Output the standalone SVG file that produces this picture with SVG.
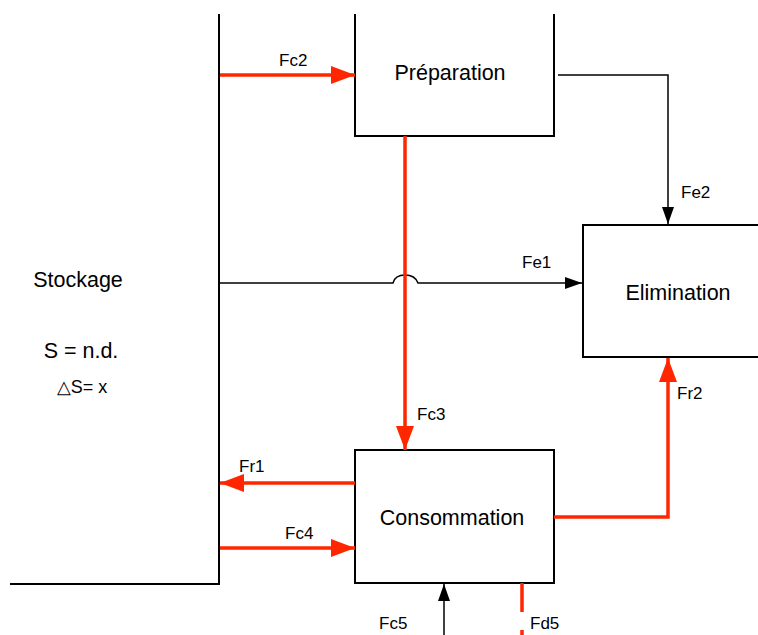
<svg xmlns="http://www.w3.org/2000/svg" width="758" height="635" viewBox="0 0 758 635">
<style>
.box{fill:none;stroke:#000;stroke-width:2}
.blk{fill:none;stroke:#000;stroke-width:1.5}
.red{fill:none;stroke:#ff2600;stroke-width:3.5}
text{font-family:"Liberation Sans",Arial,sans-serif;fill:#000}
.lbl{font-size:17px}
.big{font-size:21.5px;text-anchor:middle}
</style>
<defs>
<marker id="ar" viewBox="0 0 24 18" refX="24" refY="9" markerWidth="24" markerHeight="18" markerUnits="userSpaceOnUse" orient="auto"><path d="M0,0L24,9L0,18z" fill="#ff2600"/></marker>
<marker id="ab" viewBox="0 0 17 12" refX="17" refY="6" markerWidth="17" markerHeight="12" markerUnits="userSpaceOnUse" orient="auto"><path d="M0,0L17,6L0,12z" fill="#000"/></marker>
</defs>
<g id="stockage">
<path class="box" d="M219,14V584H10"/>
<text class="big" x="78" y="287">Stockage</text>
<text class="big" x="81" y="358">S = n.d.</text>
<text x="82" y="393" font-size="18" text-anchor="middle">△S= x</text>
</g>
<g id="preparation">
<path class="box" d="M355,14V136H554V14"/>
<text class="big" x="450" y="80">Préparation</text>
</g>
<g id="elimination">
<path class="box" d="M760,225H583V357H760"/>
<text class="big" x="678" y="300">Elimination</text>
</g>
<g id="consommation">
<rect class="box" x="355" y="450" width="199" height="133"/>
<text class="big" x="452" y="525">Consommation</text>
</g>
<g id="connectors">
<path class="red" d="M220,75H355" marker-end="url(#ar)"/>
<path class="blk" d="M558,75H668V224" marker-end="url(#ab)"/>
<path class="blk" d="M220,283H393Q395,275 405,275Q415,275 418,283H582" marker-end="url(#ab)"/>
<path class="red" d="M405,136V450" marker-end="url(#ar)"/>
<path class="red" d="M355,483H220" marker-end="url(#ar)"/>
<path class="red" d="M220,548H355" marker-end="url(#ar)"/>
<path class="red" d="M554,517H668V358" marker-end="url(#ar)"/>
<path class="blk" d="M444,635V584" marker-end="url(#ab)"/>
<path class="red" d="M522,583V635" stroke-dasharray="29,18"/>
</g>
<g id="labels">
<text class="lbl" x="279" y="66">Fc2</text>
<text class="lbl" x="681" y="198">Fe2</text>
<text class="lbl" x="522" y="268">Fe1</text>
<text class="lbl" x="417" y="420">Fc3</text>
<text class="lbl" x="677" y="399">Fr2</text>
<text class="lbl" x="239" y="472">Fr1</text>
<text class="lbl" x="285" y="539">Fc4</text>
<text class="lbl" x="379" y="629">Fc5</text>
<text class="lbl" x="530" y="629">Fd5</text>
</g>
</svg>
